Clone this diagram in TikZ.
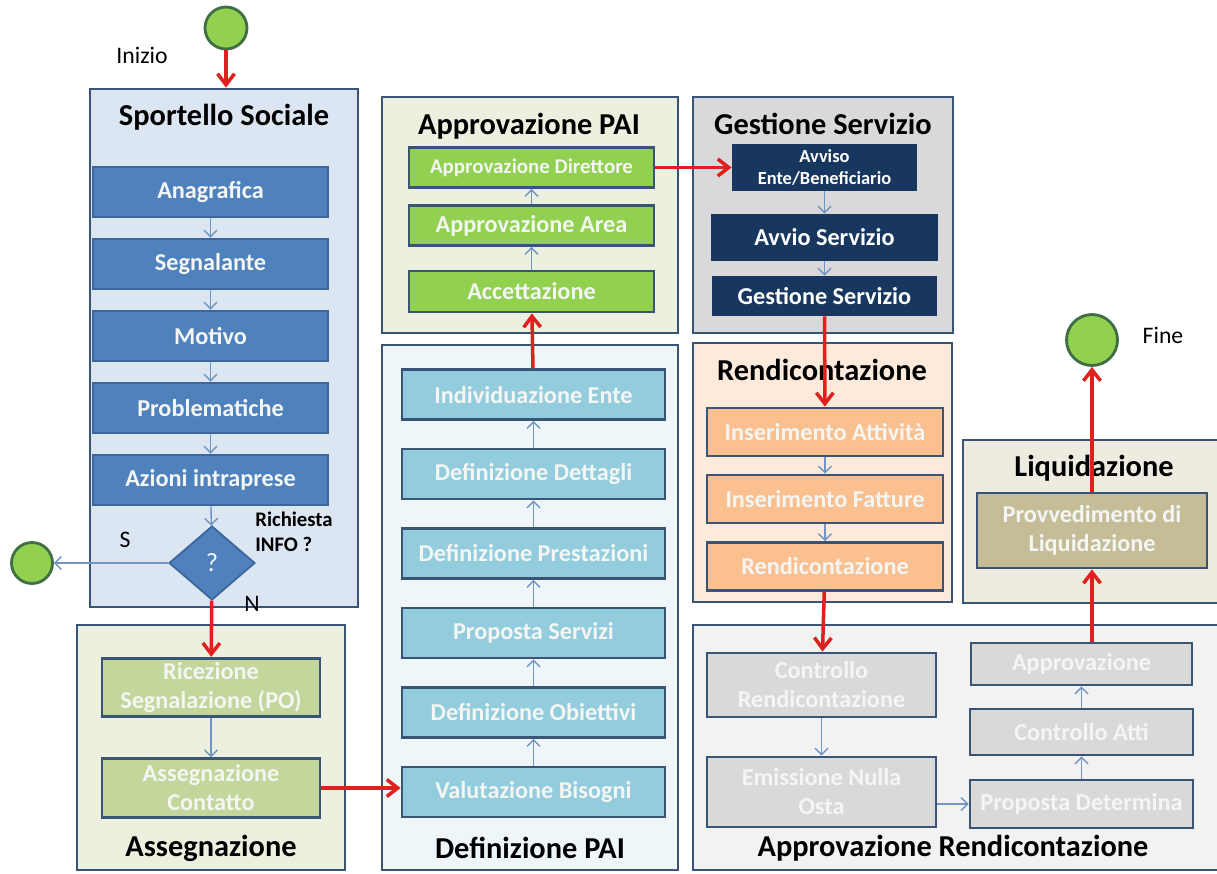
\documentclass[tikz,border=0pt]{standalone}
\usepackage{fontspec}
\setmainfont{Carlito}
\usetikzlibrary{arrows.meta,positioning,fit,shapes.geometric}

\definecolor{edgeblue}{HTML}{3A5475}
\definecolor{spfill}{HTML}{DCE6F2}
\definecolor{spblue}{HTML}{4F81BD}
\definecolor{spedge}{HTML}{3B679C}
\definecolor{asfill}{HTML}{EBF1DE}
\definecolor{asgreen}{HTML}{C3D69B}
\definecolor{apgreen}{HTML}{92D050}
\definecolor{dpfill}{HTML}{EEF6FA}
\definecolor{dpblue}{HTML}{93CDDD}
\definecolor{gsfill}{HTML}{D9D9DB}
\definecolor{gsnavy}{HTML}{17375E}
\definecolor{rcfill}{HTML}{FDEADA}
\definecolor{rcorange}{HTML}{FAC090}
\definecolor{arfill}{HTML}{F2F2F2}
\definecolor{argray}{HTML}{D9D9D9}
\definecolor{lqfill}{HTML}{EEECE1}
\definecolor{lqtan}{HTML}{C4BD97}
\definecolor{termfill}{HTML}{92D050}
\definecolor{termedge}{HTML}{3F6E45}
\definecolor{redline}{HTML}{E0201E}
\definecolor{linkblue}{HTML}{7294C4}
\definecolor{boxtext}{HTML}{F4F6F4}

\begin{document}
\begin{tikzpicture}[x=0.02cm,y=-0.02cm,on grid,
    panel/.style={draw=edgeblue,line width=1.6pt,inner sep=0pt},
    paneltitle/.style={font=\fontsize{17.3}{19}\selectfont\bfseries},
    procbox/.style={draw=edgeblue,line width=1.6pt,text=boxtext,align=center,inner sep=0pt,
        font=\fontsize{13.8}{16.5}\selectfont\bfseries},
    spbox/.style={procbox,fill=spblue,draw=spedge,minimum width=4.7cm,minimum height=1cm},
    asbox/.style={procbox,fill=asgreen,minimum width=4.36cm,minimum height=1.17cm},
    apbox/.style={procbox,fill=apgreen,minimum width=4.9cm,minimum height=0.8cm},
    dpbox/.style={procbox,fill=dpblue,minimum width=5.26cm,minimum height=1cm},
    gsbox/.style={procbox,fill=gsnavy,draw=gsnavy,text=white,minimum height=0.9cm},
    rcbox/.style={procbox,fill=rcorange,minimum width=4.72cm,minimum height=0.96cm},
    arbox/.style={procbox,fill=argray},
    lqbox/.style={procbox,fill=lqtan,minimum width=4.6cm,minimum height=1.5cm},
    terminal/.style={circle,draw=termedge,fill=termfill,line width=1.6pt,inner sep=0pt},
    plain/.style={font=\fontsize{13.5}{15}\selectfont},
    flow/.style={->,draw=redline,line width=2pt,>={Straight Barb[length=2.2mm,width=3.4mm]}},
    link/.style={->,draw=linkblue,line width=0.8pt,>={Straight Barb[length=1.3mm,width=2.6mm]}}]
\useasboundingbox (0,0) rectangle (1217,873);

% panels
\node[panel,fill=spfill,fit={(90,89) (358,607)}] (sp) {};
\node[panel,fill=asfill,fit={(77,625) (345,870)}] (as) {};
\node[panel,fill=asfill,fit={(382,97) (678,333)}] (ap) {};
\node[panel,fill=dpfill,fit={(382,345) (678,870)}] (dp) {};
\node[panel,fill=gsfill,fit={(693,97) (953,333)}] (gs) {};
\node[panel,fill=rcfill,fit={(693,343) (952,602)}] (rc) {};
\node[panel,fill=arfill,fit={(693,625) (1225,870)}] (ar) {};
\node[panel,fill=lqfill,fit={(963,440) (1225,603)}] (lq) {};

\node[paneltitle] (sp_t) at (224,117) {Sportello Sociale};
\node[paneltitle] (as_t) at (211,848) {Assegnazione};
\node[paneltitle] (ap_t) at (529,126) {Approvazione PAI};
\node[paneltitle] (dp_t) at (530,848) {Definizione PAI};
\node[paneltitle] (gs_t) at (823,124) {Gestione Servizio};
\node[paneltitle] (rc_t) at (822,370) {Rendicontazione};
\node[paneltitle] (ar_t) at (953,848) {Approvazione Rendicontazione};
\node[paneltitle] (lq_t) at (1094,468) {Liquidazione};

% terminals
\node[terminal,minimum size=0.84cm] (start) at (226,28) {};
\node[plain] (start_l) at (142,55) {Inizio};
\node[terminal,minimum size=0.82cm] (info) at (32,563) {};
\node[terminal,minimum size=1.02cm] (fine) at (1092,340) {};
\node[plain] (fine_l) at (1163,335) {Fine};

% Sportello Sociale
\node[spbox] (sp_1) at (210.5,192) {Anagrafica};
\node[spbox] (sp_2) [below=1.44cm of sp_1] {Segnalante};
\node[spbox] (sp_3) [below=1.44cm of sp_2] {Motivo};
\node[spbox] (sp_4) [below=1.44cm of sp_3] {Problematiche};
\node[spbox] (sp_5) [below=1.44cm of sp_4] {Azioni intraprese};
\node[diamond,fill=spblue,draw=spedge,line width=1pt,minimum width=1.72cm,minimum height=1.48cm,
    inner sep=0pt,text=boxtext,font=\fontsize{15}{15}\selectfont] (q) at (212,563) {?};
\node[plain] (q_s) at (125,540) {S};
\node[plain] (q_n) at (252,604) {N};
\node[align=left,font=\fontsize{11.8}{14}\selectfont\bfseries] (q_l) at (294,532) {Richiesta\\INFO ?};

% Assegnazione
\node[asbox] (as_1) at (211,687.5) {Ricezione\\Segnalazione (PO)};
\node[asbox] (as_2) [below=2.01cm of as_1] {Assegnazione\\Contatto};

% Definizione PAI
\node[dpbox] (dp_1) at (533.5,792) {Valutazione Bisogni};
\node[dpbox] (dp_2) [above=1.59cm of dp_1] {Definizione Obiettivi};
\node[dpbox] (dp_3) [above=1.59cm of dp_2] {Proposta Servizi};
\node[dpbox] (dp_4) [above=1.59cm of dp_3] {Definizione Prestazioni};
\node[dpbox] (dp_5) [above=1.59cm of dp_4] {Definizione Dettagli};
\node[dpbox] (dp_6) [above=1.59cm of dp_5] {Individuazione Ente};

% Approvazione PAI
\node[apbox,font=\fontsize{11.9}{14}\selectfont\bfseries] (ap_1) at (531.5,167.5) {Approvazione Direttore};
\node[apbox] (ap_2) [below=1.16cm of ap_1] {Approvazione Area};
\node[apbox,minimum height=0.82cm] (ap_3) [below=1.32cm of ap_2] {Accettazione};

% Gestione Servizio
\node[gsbox,minimum width=3.66cm,font=\fontsize{10.5}{12.5}\selectfont\bfseries] (gs_1) at (824.5,167.5) {Avviso\\Ente/Beneficiario};
\node[gsbox,minimum width=4.48cm] (gs_2) [below=1.4cm of gs_1] {Avvio Servizio};
\node[gsbox,minimum width=4.44cm,minimum height=0.76cm] (gs_3) [below=1.17cm of gs_2] {Gestione Servizio};

% Rendicontazione
\node[rcbox] (rc_1) at (825,432) {Inserimento Attività};
\node[rcbox] (rc_2) [below=1.34cm of rc_1] {Inserimento Fatture};
\node[rcbox] (rc_3) [below=1.35cm of rc_2] {Rendicontazione};

% Approvazione Rendicontazione
\node[arbox,minimum width=4.58cm,minimum height=1.28cm] (ar_1) at (821.5,685) {Controllo\\Rendicontazione};
\node[arbox,minimum width=4.58cm,minimum height=1.4cm] (ar_2) [below=2.14cm of ar_1] {Emissione Nulla\\Osta};
\node[arbox,minimum width=4.46cm,minimum height=0.96cm] (ar_3) at (1081.5,804) {Proposta Determina};
\node[arbox,minimum width=4.46cm,minimum height=0.92cm] (ar_4) [above=1.44cm of ar_3] {Controllo Atti};
\node[arbox,minimum width=4.42cm,minimum height=0.84cm] (ar_5) [above=1.36cm of ar_4] {Approvazione};

% Liquidazione
\node[lqbox] (lq_1) at (1092,530.5) {Provvedimento di\\Liquidazione};

\path[flow] (start) edge (start |- sp.north);
\path[link] (sp_1) edge (sp_2);
\path[link] (sp_2) edge (sp_3);
\path[link] (sp_3) edge (sp_4);
\path[link] (sp_4) edge (sp_5);
\path[link] (sp_5) edge (q);
\path[link] (q) edge (info);
\path[flow] (q) edge (as_1);
\path[link] (as_1) edge (as_2);
\path[flow] (as_2) edge (as_2 -| dp_1.west);
\path[link] (dp_1) edge (dp_2);
\path[link] (dp_2) edge (dp_3);
\path[link] (dp_3) edge (dp_4);
\path[link] (dp_4) edge (dp_5);
\path[link] (dp_5) edge (dp_6);
\path[flow] (dp_6) edge (ap_3);
\path[link] (ap_3) edge (ap_2);
\path[link] (ap_2) edge (ap_1);
\path[flow] (ap_1) edge (gs_1);
\path[link] (gs_1) edge (gs_2);
\path[link] (gs_2) edge (gs_3);
\path[flow] (gs_3) edge (rc_1);
\path[link] (rc_1) edge (rc_2);
\path[link] (rc_2) edge (rc_3);
\path[flow] (rc_3) edge (ar_1);
\path[link] (ar_1) edge (ar_2);
\draw[link] (ar_2.east |- ar_3) -- (ar_3.west);
\path[link] (ar_3) edge (ar_4);
\path[link] (ar_4) edge (ar_5);
\draw[flow] (ar_5.north -| lq_1) -- (lq_1.south);
\path[flow] (lq_1) edge (fine);
\end{tikzpicture}
\end{document}
